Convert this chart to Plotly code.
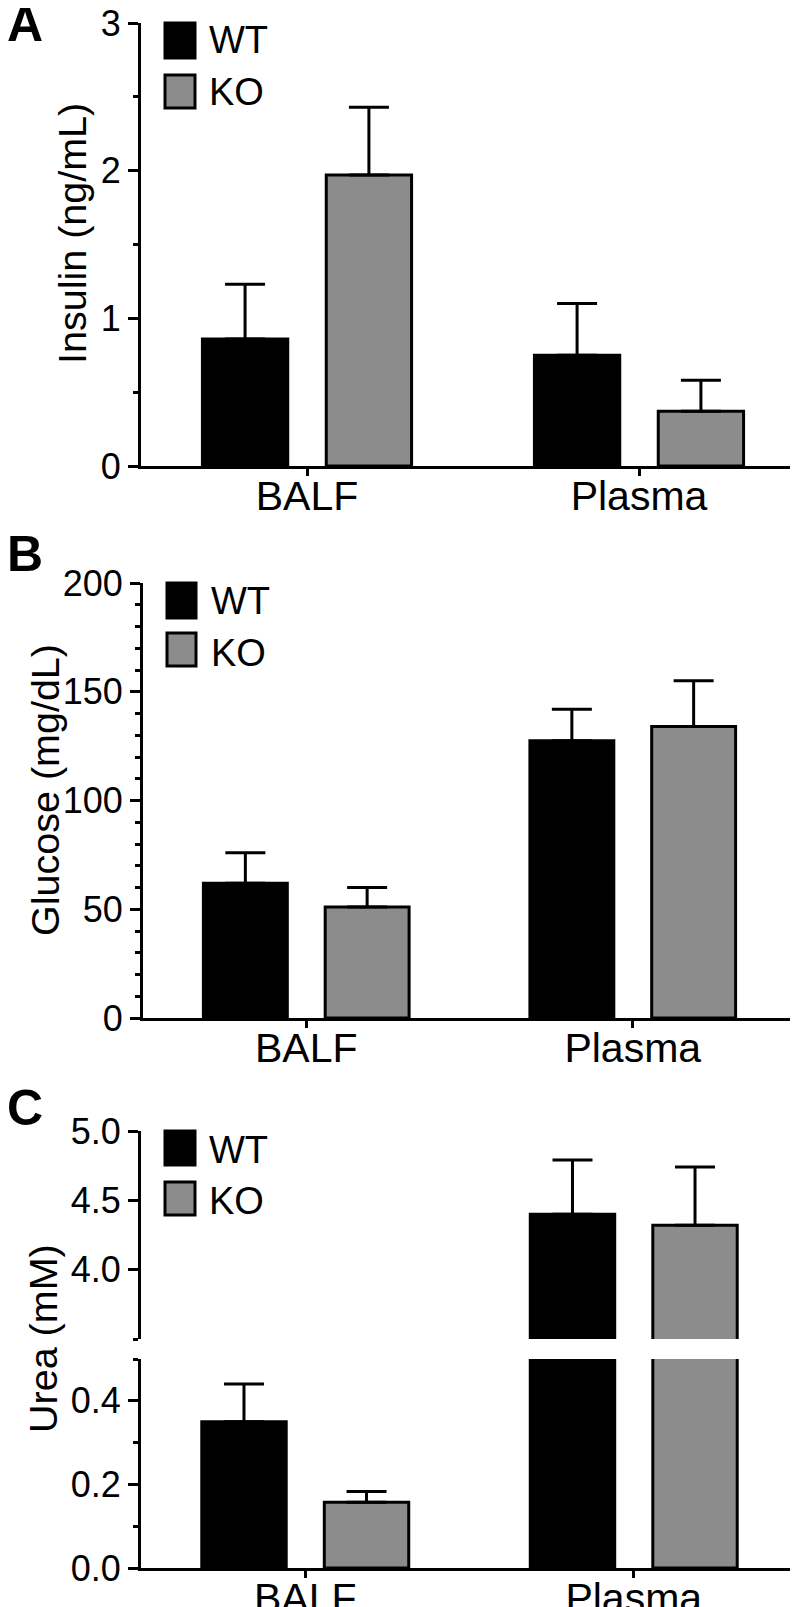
import plotly.graph_objects as go

# ---------------- data ----------------
categories = ["BALF", "Plasma"]
groups = ["WT", "KO"]

insulin_wt = [0.86, 0.75]
insulin_wt_err = [0.37, 0.35]
insulin_ko = [1.97, 0.37]
insulin_ko_err = [0.46, 0.21]

glucose_wt = [62, 127.5]
glucose_wt_err = [14, 14.5]
glucose_ko = [51, 134]
glucose_ko_err = [9, 21]

urea_wt = [0.35, 4.40]
urea_wt_err = [0.09, 0.39]
urea_ko = [0.157, 4.32]
urea_ko_err = [0.026, 0.42]

panel_letters = ["A", "B", "C"]
y_titles = ["Insulin (ng/mL)", "Glucose (mg/dL)", "Urea (mM)"]

# ---------------- style ----------------
W, H = 798, 1607
FONT = "Liberation Sans, Arial, sans-serif"
BLACK = "#000000"
GRAY = "#8c8c8c"
LW = 3
BAR_W = 0.257
OFF_WT = -0.315
OFF_KO = 0.058


def px_x(x):
    return x / W


def px_y(y):
    return 1 - y / H


fig = go.Figure()


def add_bars(xa, ya, wt, wt_err, ko, ko_err):
    for name, vals, err, col, off in [
        ("WT", wt, wt_err, BLACK, OFF_WT),
        ("KO", ko, ko_err, GRAY, OFF_KO),
    ]:
        fig.add_trace(go.Bar(
            x=categories, y=vals, name=name,
            xaxis=xa, yaxis=ya,
            width=BAR_W, offset=off,
            marker=dict(color=col, line=dict(color=BLACK, width=LW)),
            error_y=dict(type="data", array=err, arrayminus=[0] * len(err),
                         symmetric=False, color=BLACK, thickness=LW, width=20),
            showlegend=False,
        ))


add_bars("x", "y", insulin_wt, insulin_wt_err, insulin_ko, insulin_ko_err)
add_bars("x2", "y2", glucose_wt, glucose_wt_err, glucose_ko, glucose_ko_err)
add_bars("x3", "y3", urea_wt, urea_wt_err, urea_ko, urea_ko_err)
add_bars("x3", "y4", urea_wt, urea_wt_err, urea_ko, urea_ko_err)

tickfont = dict(family=FONT, size=36, color=BLACK)
xtickfont = dict(family=FONT, size=41, color=BLACK)


def xaxis(dom, anchor):
    return dict(domain=dom, anchor=anchor, range=[-0.5, 1.5], type="category",
                showline=True, linecolor=BLACK, linewidth=LW,
                ticks="outside", ticklen=7, tickwidth=LW, tickcolor=BLACK,
                tickfont=xtickfont, showgrid=False, zeroline=False,
                ticklabelstandoff=-15, ticklabeloverflow="allow",
                automargin=False, fixedrange=True)


def yaxis(dom, anchor, rng, tickvals, ticktext, minorvals):
    return dict(domain=dom, anchor=anchor, range=rng,
                showline=True, linecolor=BLACK, linewidth=LW,
                ticks="outside", ticklen=10, tickwidth=LW, tickcolor=BLACK,
                tickmode="array", tickvals=tickvals, ticktext=ticktext,
                tickfont=tickfont, showgrid=False, zeroline=False,
                ticklabeloverflow="allow",
                minor=dict(tickmode="array", tickvals=minorvals, ticks="outside",
                           ticklen=5, tickwidth=LW, tickcolor=BLACK, showgrid=False),
                automargin=False, fixedrange=True)


fig.update_layout(
    template="none",
    xaxis=xaxis([px_x(133), px_x(797)], "y"),
    yaxis=yaxis([px_y(458), px_y(15)], "x", [0, 3], [0, 1, 2, 3], ["0", "1", "2", "3"],
                [0.5, 1.5, 2.5]),
    xaxis2=xaxis([px_x(135), px_x(788)], "y2"),
    yaxis2=yaxis([px_y(1010), px_y(575)], "x2", [0, 200], [0, 50, 100, 150, 200],
                 ["0", "50", "100", "150", "200"],
                 [10, 20, 30, 40, 60, 70, 80, 90, 110, 120, 130, 140, 160, 170, 180, 190]),
    xaxis3=xaxis([px_x(133), px_x(790)], "y3"),
    yaxis3=yaxis([px_y(1560), px_y(1351)], "x3", [0, 0.5], [0, 0.2, 0.4],
                 ["0.0", "0.2", "0.4"], [0.1, 0.3, 0.5]),
    yaxis4=yaxis([px_y(1331), px_y(1123)], "x3", [3.5, 5.0], [4.0, 4.5, 5.0],
                 ["4.0", "4.5", "5.0"], [3.5]),
    barmode="overlay",
    width=W, height=H,
    margin=dict(l=0, r=0, t=0, b=0, pad=0),
    paper_bgcolor="white", plot_bgcolor="white",
    font=dict(family=FONT, color=BLACK),
    showlegend=False,
)

# panel letters
for letter, ytop in zip(panel_letters, [-14, 516, 1070]):
    fig.add_annotation(text=f"<b>{letter}</b>", xref="paper", yref="paper",
                       x=px_x(-3), y=px_y(ytop), xanchor="left", yanchor="top",
                       showarrow=False, font=dict(family=FONT, size=50, color=BLACK))

# y-axis titles
for title, xc, yc in zip(y_titles, [64, 37, 35], [226, 782, 1331]):
    fig.add_annotation(text=title, xref="paper", yref="paper",
                       x=px_x(xc), y=px_y(yc), xanchor="center", yanchor="middle",
                       textangle=-90, showarrow=False,
                       font=dict(family=FONT, size=39.5, color=BLACK))

# legends (one per panel)
legend_pos = [
    # (sq_x0, sq_x1, wt_y0, wt_y1, ko_y0, ko_y1, text_x, wt_yc, ko_yc)
    (157, 187, 15, 50, 67, 100, 199, 32, 84),
    (159, 188, 575, 610, 625, 658, 201, 593, 645),
    (157, 187, 1123, 1157, 1174, 1207, 199, 1142, 1193),
]
for sx0, sx1, wy0, wy1, ky0, ky1, tx, wyc, kyc in legend_pos:
    for (y0, y1, col, label, yc) in [(wy0, wy1, BLACK, groups[0], wyc),
                                     (ky0, ky1, GRAY, groups[1], kyc)]:
        fig.add_shape(type="rect", xref="paper", yref="paper",
                      x0=px_x(sx0), x1=px_x(sx1), y0=px_y(y1), y1=px_y(y0),
                      fillcolor=col, line=dict(color=BLACK, width=LW))
        fig.add_annotation(text=label, xref="paper", yref="paper",
                           x=px_x(tx), y=px_y(yc), xanchor="left", yanchor="middle",
                           showarrow=False, font=dict(family=FONT, size=38, color=BLACK))

fig.write_html("out.html")
